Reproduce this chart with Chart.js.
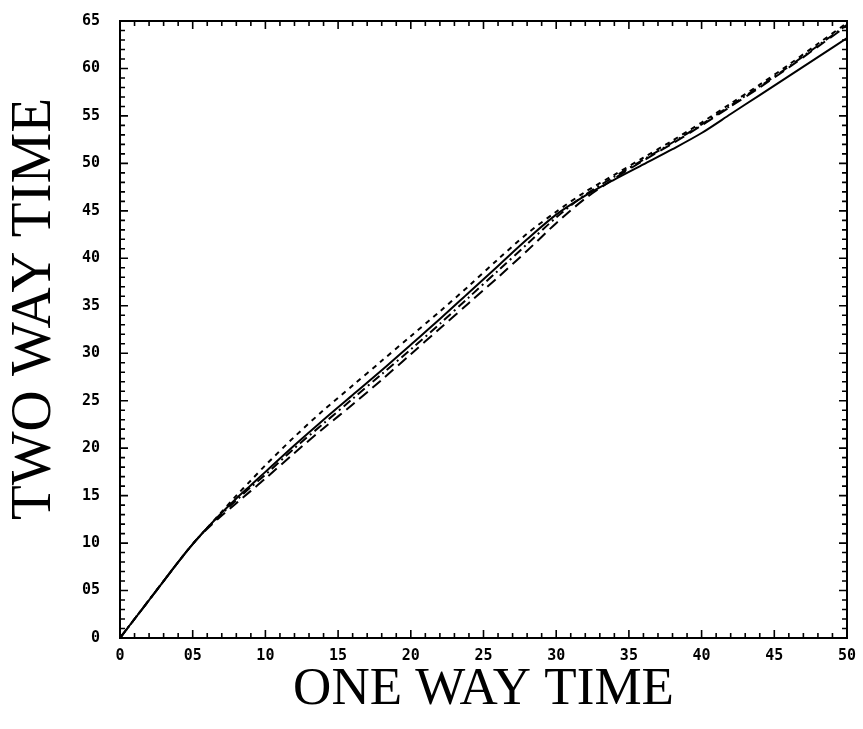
<!DOCTYPE html>
<html>
<head>
<meta charset="utf-8">
<script src="https://cdn.jsdelivr.net/npm/chart.js@4.4.0/dist/chart.umd.min.js"></script>
<style>
  html, body { margin: 0; padding: 0; background: #fff; }
  #wrap { width: 863px; height: 729px; }
</style>
</head>
<body>
<div id="wrap"><canvas id="timeChart" width="863" height="729"></canvas></div>
<script>
// one way time (x) sample points
const oneWay = [0, 1, 2, 3, 4, 5, 6, 7, 8, 9, 10, 12, 14, 16, 18, 20, 22, 24, 26, 28, 30, 32, 34, 36, 38, 40, 42, 44, 46, 48, 50];

// two way time for each curve
const solidLine = [0, 2.0, 4.0, 6.0, 8.0, 9.9, 11.6, 13.2, 14.7, 16.1, 17.5, 20.3, 23.0, 25.6, 28.2, 30.9, 33.6, 36.4, 39.2, 42.0, 44.6, 46.6, 48.3, 49.9, 51.5, 53.2, 55.2, 57.2, 59.2, 61.2, 63.2];
const shortDash = [0, 2.0, 4.0, 6.0, 8.0, 9.9, 11.6, 13.3, 15.0, 16.6, 18.2, 21.2, 24.0, 26.6, 29.2, 31.8, 34.4, 37.1, 39.9, 42.6, 44.9, 47.0, 48.8, 50.6, 52.4, 54.3, 56.3, 58.3, 60.4, 62.6, 64.8];
const longDash = [0, 2.0, 4.0, 6.0, 8.0, 9.9, 11.5, 12.9, 14.2, 15.5, 16.8, 19.5, 22.1, 24.6, 27.2, 29.9, 32.6, 35.3, 38.0, 40.8, 43.7, 46.3, 48.4, 50.3, 52.1, 54.0, 56.0, 58.0, 60.1, 62.3, 64.5];
const dashDot = [0, 2.0, 4.0, 6.0, 8.0, 9.9, 11.6, 13.1, 14.5, 15.9, 17.2, 20.0, 22.6, 25.2, 27.8, 30.4, 33.1, 35.9, 38.7, 41.5, 44.3, 46.7, 48.6, 50.4, 52.2, 54.1, 56.1, 58.1, 60.2, 62.4, 64.6];

// axis limits and titles
const xMax = 50;
const yMax = 65;
const xTitle = "ONE WAY TIME";
const yTitle = "TWO WAY TIME";

function toPoints(ys) {
    return oneWay.map(function (x, i) { return { x: x, y: ys[i] }; });
}

// labels like the old plotter: 05, 10, ...
function padTick(value) {
    if (value === 0) return "0";
    return value < 10 ? "0" + value : String(value);
}

// frame, inward ticks on all four sides, and the rotated y title
const framePlugin = {
    id: "frame",
    afterDraw(chart) {
        const ctx = chart.ctx;
        const area = chart.chartArea;
        const xs = chart.scales.x;
        const ys = chart.scales.y;
        ctx.save();
        ctx.strokeStyle = "#000";
        ctx.lineWidth = 2;
        ctx.strokeRect(area.left, area.top, area.right - area.left, area.bottom - area.top);
        ctx.lineWidth = 1.6;
        ctx.beginPath();
        for (let v = 1; v < xMax; v++) {
            const px = xs.getPixelForValue(v);
            const len = v % 5 === 0 ? 8 : 5;
            ctx.moveTo(px, area.bottom);
            ctx.lineTo(px, area.bottom - len);
            ctx.moveTo(px, area.top);
            ctx.lineTo(px, area.top + len);
        }
        for (let v = 1; v < yMax; v++) {
            const py = ys.getPixelForValue(v);
            const len = v % 5 === 0 ? 8 : 5;
            ctx.moveTo(area.left, py);
            ctx.lineTo(area.left + len, py);
            ctx.moveTo(area.right, py);
            ctx.lineTo(area.right - len, py);
        }
        ctx.stroke();

        // y title sits a bit above the middle of the axis in the original
        ctx.translate(35, 309);
        ctx.rotate(-Math.PI / 2);
        ctx.fillStyle = "#000";
        ctx.font = "normal 57px 'Liberation Serif'";
        ctx.textAlign = "center";
        ctx.textBaseline = "middle";
        ctx.fillText(yTitle, 0, 0);
        ctx.restore();
    }
};

const tickFont = { family: "DejaVu Sans Mono", size: 15, weight: "bold" };

function lineSet(data, dash) {
    return {
        data: toPoints(data),
        borderColor: "#000",
        borderWidth: 2,
        borderDash: dash,
        pointRadius: 0,
        fill: false,
        tension: 0.3
    };
}

new Chart(document.getElementById("timeChart").getContext("2d"), {
    type: "line",
    data: {
        datasets: [
            lineSet(solidLine, []),
            lineSet(shortDash, [5, 5]),
            lineSet(dashDot, [9, 4, 2, 4]),
            lineSet(longDash, [11, 6])
        ]
    },
    plugins: [framePlugin],
    options: {
        responsive: false,
        animation: false,
        layout: { padding: { top: 10, right: 16, left: 0, bottom: 0 } },
        plugins: {
            legend: { display: false },
            tooltip: { enabled: false }
        },
        scales: {
            x: {
                type: "linear",
                min: 0,
                max: xMax,
                afterFit: function (scale) { scale.height = 91; },
                grid: { display: false },
                border: { display: false },
                ticks: {
                    stepSize: 5,
                    autoSkip: false,
                    maxRotation: 0,
                    padding: 1,
                    color: "#000",
                    font: tickFont,
                    callback: padTick
                },
                title: {
                    display: true,
                    text: xTitle,
                    color: "#000",
                    font: { family: "Liberation Serif", size: 53, weight: "normal" },
                    padding: { top: 0, bottom: 7 }
                }
            },
            y: {
                type: "linear",
                min: 0,
                max: yMax,
                afterFit: function (scale) { scale.width = 120; },
                grid: { display: false },
                border: { display: false },
                ticks: {
                    stepSize: 5,
                    autoSkip: false,
                    padding: 12,
                    color: "#000",
                    font: tickFont,
                    callback: padTick
                },
                title: { display: false }
            }
        }
    }
});
</script>
</body>
</html>
